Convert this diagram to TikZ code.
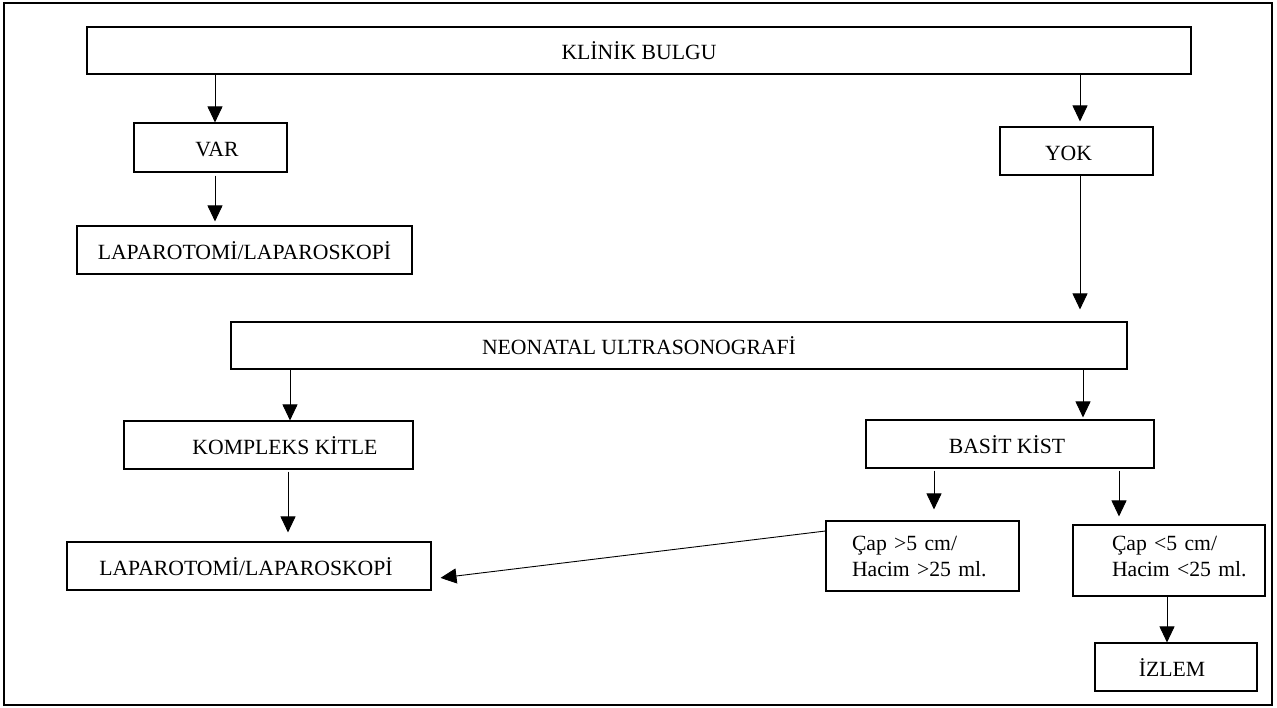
\documentclass[tikz,border=0pt]{standalone}
\usepackage{fontspec}
\setmainfont{Liberation Serif}
\usetikzlibrary{arrows.meta}
\begin{document}
\begin{tikzpicture}[x=1pt,y=-1pt,
  every node/.style={font=\fontsize{21.7}{26}\selectfont},
  box/.style={draw=black, line width=1.1pt, inner sep=0pt, text height=19pt, text depth=0pt},
  mbox/.style={draw=black, line width=1.1pt, inner sep=0pt, align=left},
  arr/.style={line width=0.9pt, -{Triangle[length=16pt,width=15pt]}}]
\useasboundingbox (0,0) rectangle (1277,708);
\draw[line width=1.1pt] (4,3) rectangle (1272,705);

\node[box, minimum width=1104pt, minimum height=47pt] (klinik) at (639,50.5) {KLİNİK BULGU};
\node[box, minimum width=153pt, minimum height=49pt] (var) at (210.5,147.5) {\hspace*{13pt}VAR};
\node[box, minimum width=153pt, minimum height=48pt] (yok) at (1076.5,151) {YOK\hspace*{16pt}};
\node[box, minimum width=335pt, minimum height=48pt] (lapa) at (244.5,250) {LAPAROTOMİ/LAPAROSKOPİ};
\node[box, minimum width=896pt, minimum height=47pt] (neo) at (679,345.5) {NEONATAL ULTRASONOGRAFİ\hspace*{80pt}};
\node[box, minimum width=289pt, minimum height=48pt] (komp) at (268.5,445) {\hspace*{33pt}KOMPLEKS KİTLE};
\node[box, minimum width=288pt, minimum height=48pt] (basit) at (1010,444) {BASİT KİST\hspace*{6pt}};
\node[box, minimum width=364pt, minimum height=48pt] (lapb) at (249,566) {LAPAROTOMİ/LAPAROSKOPİ\hspace*{6pt}};
\node[mbox, minimum width=193pt, minimum height=70pt, text width=193pt] (big) at (922.5,556)
  {\hspace*{26pt}Çap >5 cm/\\\hspace*{26pt}Hacim >25 ml.};
\node[mbox, minimum width=192pt, minimum height=71pt, text width=192pt] (small) at (1169,560.5)
  {\hspace*{39pt}Çap <5 cm/\\\hspace*{39pt}Hacim <25 ml.\rule[-9pt]{0pt}{9pt}};
\node[box, minimum width=162pt, minimum height=48pt] (izlem) at (1176,667) {İZLEM\hspace*{8pt}};

\coordinate (x215) at (215,0);
\coordinate (x1080) at (1080,0);
\coordinate (x290) at (290,0);
\coordinate (x1083) at (1083,0);
\coordinate (x288) at (288,0);
\coordinate (x934) at (934,0);
\coordinate (x1119) at (1119,0);
\coordinate (x1167) at (1167,0);

\draw[arr] (klinik.south -| x215) -- (var.north -| x215);
\draw[arr, shorten >=5pt] (klinik.south -| x1080) -- (yok.north -| x1080);
\draw[arr, shorten <=3pt, shorten >=4pt] (var.south -| x215) -- (lapa.north -| x215);
\draw[arr, shorten >=12pt] (yok.south -| x1080) -- (neo.north -| x1080);
\draw[arr] (neo.south -| x290) -- (komp.north -| x290);
\draw[arr, shorten >=2pt] (neo.south -| x1083) -- (basit.north -| x1083);
\draw[arr, shorten <=2pt, shorten >=9pt] (komp.south -| x288) -- (lapb.north -| x288);
\draw[arr, shorten <=2pt, shorten >=11pt] (basit.south -| x934) -- (big.north -| x934);
\draw[arr, shorten <=2pt, shorten >=8pt] (basit.south -| x1119) -- (small.north -| x1119);
\draw[arr] (small.south -| x1167) -- (izlem.north -| x1167);
\draw[arr, shorten >=9pt] ([yshift=25pt]big.west) -- ([yshift=-13pt]lapb.east);
\end{tikzpicture}
\end{document}
